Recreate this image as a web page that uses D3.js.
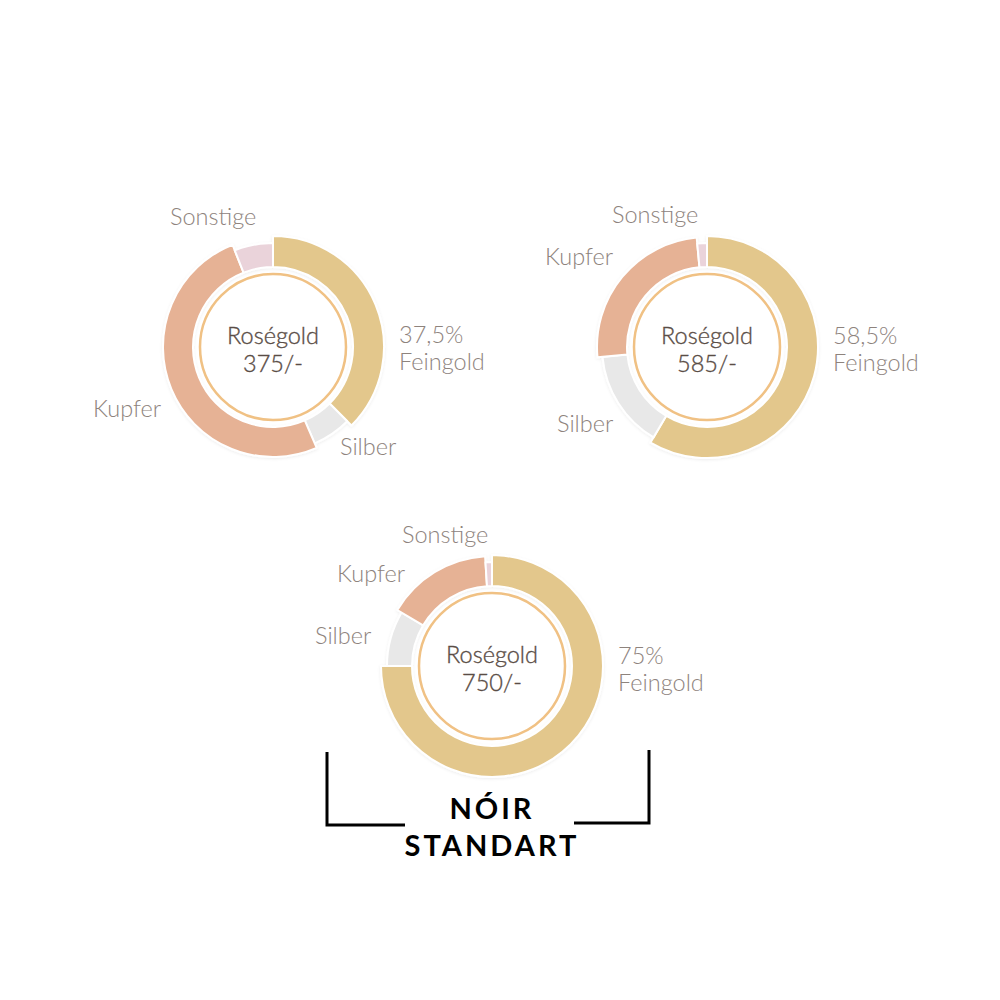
<!DOCTYPE html>
<html lang="de">
<head>
<meta charset="UTF-8">
<title>Roségold Legierungen</title>
<style>
  html, body { margin: 0; padding: 0; background: #fff; }
  #chart { width: 1000px; height: 1000px; }
  .label { font-family: Lato, "Open Sans", sans-serif; font-weight: 300; font-size: 23.5px; fill: #8e837d; }
  .center { font-family: Lato, "Open Sans", sans-serif; font-weight: 300; font-size: 23.5px; fill: #5a4d46; stroke: #5a4d46; stroke-width: 0.35px; }
  .brand { font-family: Lato, "Open Sans", sans-serif; font-weight: 700; font-size: 29px; fill: #000; letter-spacing: 3px; }
</style>
</head>
<body>
<div id="chart"></div>
<script src="https://d3js.org/d3.v7.min.js"></script>
<script>
// data
const components = ["Feingold", "Silber", "Kupfer", "Sonstige"];
const alloys = ["375/-", "585/-", "750/-"];
const fineLabels = ["37,5%", "58,5%", "75%"];
const values375 = [37.5, 6, 50.5, 6];
const values585 = [58.5, 15, 25, 1.5];
const values750 = [75, 8.5, 15.5, 1];
const series = [values375, values585, values750];

// style
const colors = { Feingold: "#e3c78c", Silber: "#e8e8e8", Kupfer: "#e6b295", Sonstige: "#ead3da" };
const outerR = { Feingold: 111, Silber: 105, Kupfer: 110, Sonstige: 104 };
const innerR = 80;

// layout: chart centers and label anchors
const layout = [
  { cx: 273, cy: 347, labels: {
      Sonstige: [170, 225], Kupfer: [93, 417], Silber: [340, 455], Feingold: [399, 343] } },
  { cx: 707, cy: 347, labels: {
      Sonstige: [612, 223], Kupfer: [545, 265], Silber: [557, 432], Feingold: [833, 344] } },
  { cx: 492, cy: 666, labels: {
      Sonstige: [402, 543], Kupfer: [337, 582], Silber: [315, 644], Feingold: [618, 664] } }
];

const svg = d3.select("#chart").append("svg")
  .attr("width", 1000).attr("height", 1000);

const defs = svg.append("defs");
const f = defs.append("filter").attr("id", "soft")
  .attr("x", "-20%").attr("y", "-20%").attr("width", "140%").attr("height", "140%");
f.append("feDropShadow").attr("dx", 0).attr("dy", 1).attr("stdDeviation", 1.5)
  .attr("flood-color", "#000").attr("flood-opacity", 0.07);

const pie = d3.pie().sort(null).value(d => d.value);
const arc = d3.arc().innerRadius(innerR).outerRadius(d => outerR[d.data.name]);

series.forEach((vals, i) => {
  const L = layout[i];
  const g = svg.append("g").attr("transform", `translate(${L.cx},${L.cy})`);
  const data = components.map((name, j) => ({ name, value: vals[j] }));

  g.append("g").attr("filter", "url(#soft)")
    .selectAll("path")
    .data(pie(data))
    .join("path")
    .attr("d", arc)
    .attr("fill", d => colors[d.data.name])
    .attr("stroke", "#fff")
    .attr("stroke-width", 2)
    .attr("stroke-linejoin", "round");

  g.append("circle").attr("r", 73)
    .attr("fill", "#fff")
    .attr("stroke", "#f0c184")
    .attr("stroke-width", 2.5);

  g.append("text").attr("class", "center")
    .attr("text-anchor", "middle").attr("y", -3)
    .text("Roségold");
  g.append("text").attr("class", "center")
    .attr("text-anchor", "middle").attr("y", 25)
    .text(alloys[i]);

  components.forEach(name => {
    const [x, y] = L.labels[name];
    if (name === "Feingold") {
      svg.append("text").attr("class", "label").attr("x", x).attr("y", y).text(fineLabels[i]);
      svg.append("text").attr("class", "label").attr("x", x).attr("y", y + 27).text("Feingold");
    } else {
      svg.append("text").attr("class", "label").attr("x", x).attr("y", y).text(name);
    }
  });
});

// bracket + brand
const bracket = svg.append("g").attr("fill", "none").attr("stroke", "#000").attr("stroke-width", 3);
bracket.append("path").attr("d", "M327,752 V825 H405");
bracket.append("path").attr("d", "M649,750 V823 H574");

svg.append("text").attr("class", "brand").attr("text-anchor", "middle")
  .attr("x", 492).attr("y", 819).text("NÓIR");
svg.append("text").attr("class", "brand").attr("text-anchor", "middle")
  .attr("x", 492).attr("y", 856).text("STANDART");
</script>
</body>
</html>
